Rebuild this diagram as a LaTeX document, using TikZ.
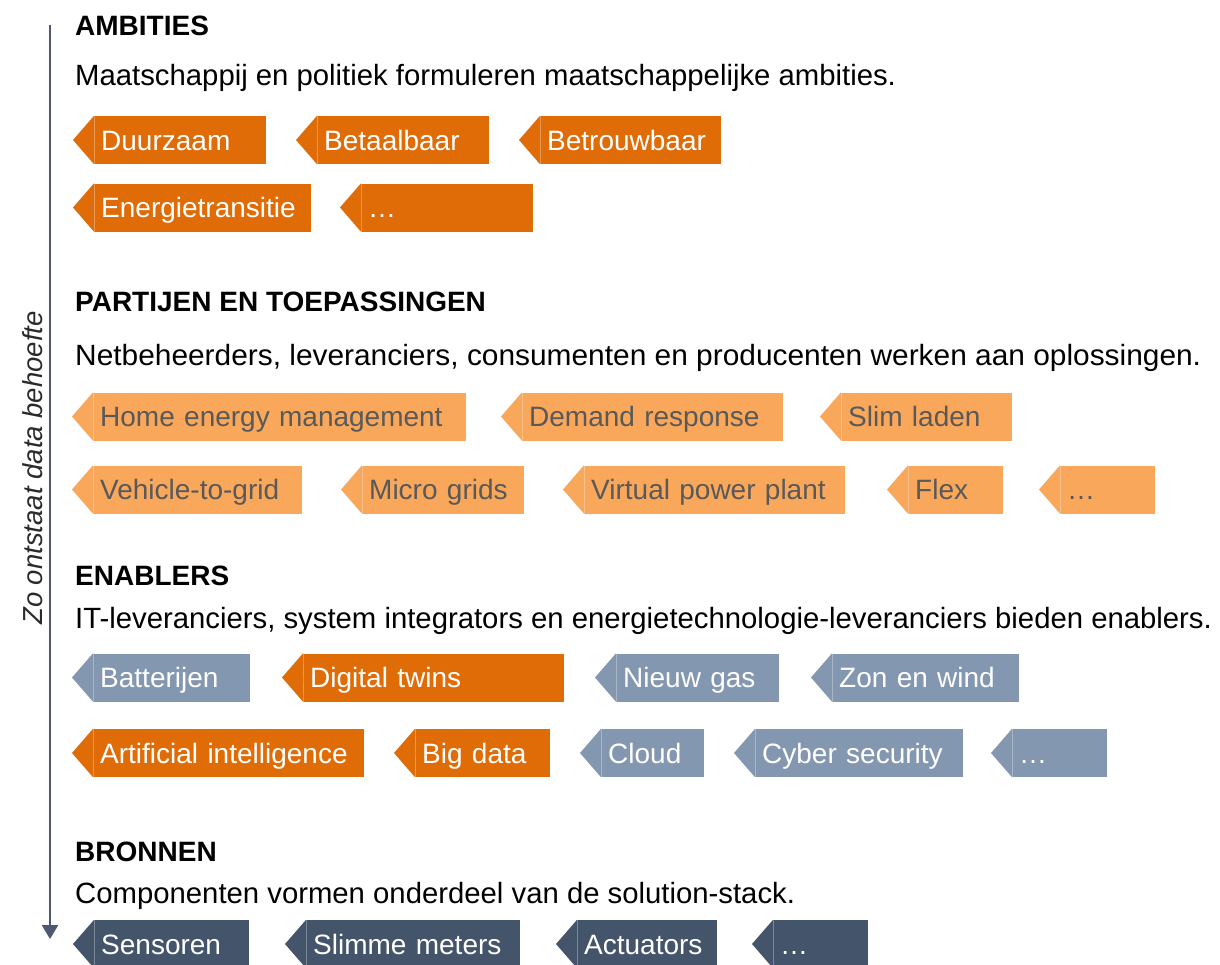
\documentclass[tikz,border=0pt]{standalone}
\usepackage{fontspec}
\setmainfont{Liberation Sans}
\usetikzlibrary{arrows.meta}
\definecolor{dko}{HTML}{E06C08}
\definecolor{lto}{HTML}{F9A75B}
\definecolor{bgr}{HTML}{8497B0}
\definecolor{dks}{HTML}{44546A}
\definecolor{ltotext}{HTML}{595959}
\definecolor{arrowcol}{HTML}{4B5A72}
\definecolor{labelcol}{HTML}{2A2A2A}
\newcommand\fsz{\fontsize{28}{32}\selectfont}
\newcommand\subfsz{\fontsize{29.3}{34}\selectfont}
\newcommand\tagnode[7]{%
  \pgfmathsetmacro\tagw{#5-#4-21}%
  \pgfmathsetmacro\tagtw{#5-#4-21-14}%
  \node[tagbox, fill=#2, text=#3, minimum width=\tagw pt, text width=\tagtw pt, anchor=west] (#1) at (#4+21,#6) {#7};%
  \fill[#2] (#1.north west) -- (#4,#6) -- (#1.south west) -- cycle;%
  \draw[white, opacity=0.3, line width=0.8pt] (#1.north west) -- (#1.south west);%
}
\begin{document}
\begin{tikzpicture}[x=1pt, y=-1pt,
  tagbox/.style={inner xsep=7pt, inner ysep=0pt, minimum height=48pt, text height=26pt, text depth=6pt, align=left, font=\fsz},
  sectitle/.style={inner sep=0pt, anchor=base west, font=\fsz\bfseries, text=black},
  subtitle/.style={inner sep=0pt, anchor=base west, font=\subfsz, text=black},
  flowarrow/.style={draw=arrowcol, line width=2.6pt, -{Triangle[width=16pt,length=14pt]}}
]
\useasboundingbox (0,0) rectangle (1220,964);
\fill[white] (0,0) rectangle (1220,964);

% vertical arrow and label
\coordinate (atop) at (50,25);
\coordinate (abot) at (50,939);
\draw[flowarrow] (atop) -- (abot);
\node[rotate=90, anchor=base, inner sep=0pt, font=\fontsize{27.5}{32}\selectfont\itshape, text=labelcol] (lbl) at (42,468) {Zo ontstaat data behoefte};

% AMBITIES
\node[sectitle] (t1) at (75,35) {AMBITIES};
\node[subtitle] (s1) at (75,85) {Maatschappij en politiek formuleren maatschappelijke ambities.};
\tagnode{a1}{dko}{white}{73}{266}{140}{Duurzaam}
\tagnode{a2}{dko}{white}{296}{489}{140}{Betaalbaar}
\tagnode{a3}{dko}{white}{519}{721}{140}{Betrouwbaar}
\tagnode{a4}{dko}{white}{73}{311}{207.5}{Energietransitie}
\tagnode{a5}{dko}{white}{340}{533}{207.5}{…}

% PARTIJEN EN TOEPASSINGEN
\node[sectitle] (t2) at (75,311) {PARTIJEN EN TOEPASSINGEN};
\node[subtitle] (s2) at (75,365) {\resizebox{1126pt}{\height}{Netbeheerders, leveranciers, consumenten en producenten werken aan oplossingen.}};
\tagnode{p1}{lto}{ltotext}{72}{466}{416.5}{Home energy management}
\tagnode{p2}{lto}{ltotext}{501}{783}{416.5}{Demand response}
\tagnode{p3}{lto}{ltotext}{820}{1012}{416.5}{Slim laden}
\tagnode{p4}{lto}{ltotext}{72}{302}{489.5}{Vehicle-to-grid}
\tagnode{p5}{lto}{ltotext}{341}{524}{489.5}{Micro grids}
\tagnode{p6}{lto}{ltotext}{563}{845}{489.5}{Virtual power plant}
\tagnode{p7}{lto}{ltotext}{887}{1003}{489.5}{Flex}
\tagnode{p8}{lto}{ltotext}{1039}{1155}{489.5}{…}

% ENABLERS
\node[sectitle] (t3) at (75,585) {ENABLERS};
\node[subtitle] (s3) at (75,628) {IT-leveranciers, system integrators en energietechnologie-leveranciers bieden enablers.};
\tagnode{e1}{bgr}{white}{72}{250}{677.5}{Batterijen}
\tagnode{e2}{dko}{white}{282}{564}{677.5}{Digital twins}
\tagnode{e3}{bgr}{white}{595}{779}{677.5}{Nieuw gas}
\tagnode{e4}{bgr}{white}{811}{1019}{677.5}{Zon en wind}
\tagnode{e5}{dko}{white}{72}{364}{753}{Artificial intelligence}
\tagnode{e6}{dko}{white}{394}{550}{753}{Big data}
\tagnode{e7}{bgr}{white}{580}{704}{753}{Cloud}
\tagnode{e8}{bgr}{white}{734}{963}{753}{Cyber security}
\tagnode{e9}{bgr}{white}{991}{1107}{753}{…}

% BRONNEN
\node[sectitle] (t4) at (75,861) {BRONNEN};
\node[subtitle] (s4) at (75,903) {Componenten vormen onderdeel van de solution-stack.};
\tagnode{b1}{dks}{white}{73}{249}{944}{Sensoren}
\tagnode{b2}{dks}{white}{285}{520}{944}{Slimme meters}
\tagnode{b3}{dks}{white}{556}{717}{944}{Actuators}
\tagnode{b4}{dks}{white}{752}{868}{944}{…}
\end{tikzpicture}
\end{document}
